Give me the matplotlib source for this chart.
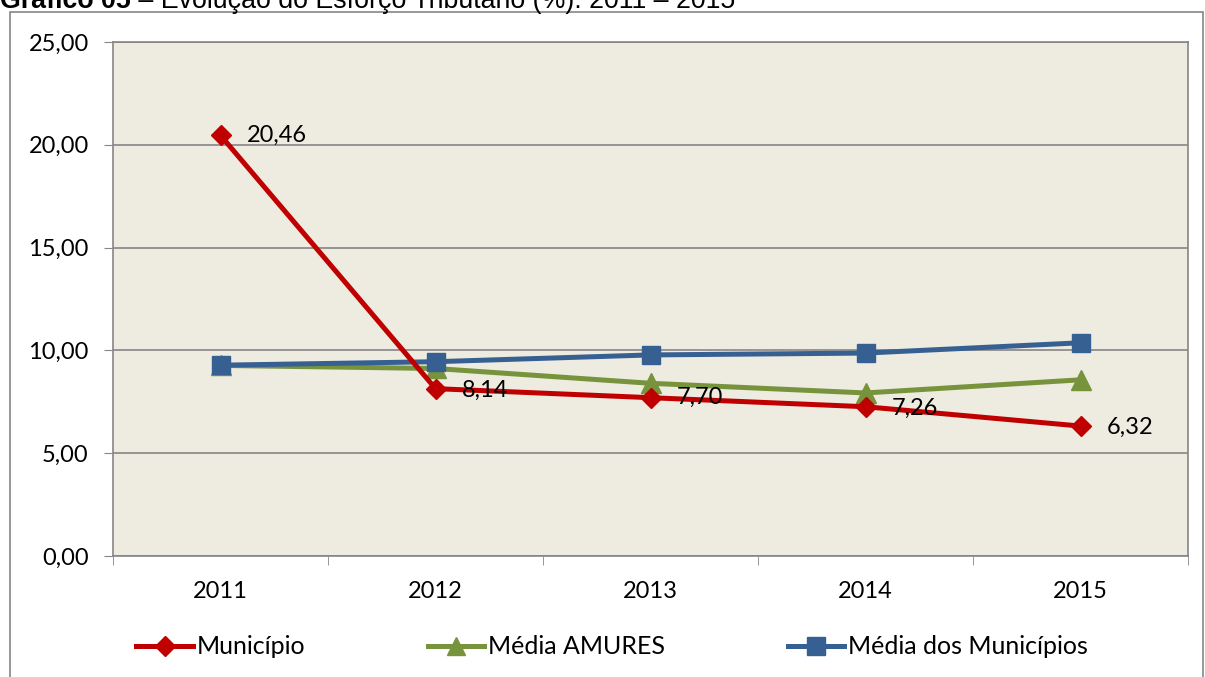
import matplotlib
matplotlib.use("Agg")
import matplotlib.pyplot as plt
from matplotlib.ticker import FuncFormatter, FixedLocator, MultipleLocator
from matplotlib.patches import Rectangle
from matplotlib.text import Annotation

years = ["2011", "2012", "2013", "2014", "2015"]
municipio = [20.46, 8.14, 7.70, 7.26, 6.32]
media_amures = [9.27, 9.12, 8.40, 7.93, 8.57]
media_municipios = [9.28, 9.45, 9.78, 9.87, 10.37]
municipio_labels = ["20,46", "8,14", "7,70", "7,26", "6,32"]

W, H = 1205, 677
fig = plt.figure(figsize=(W / 100, H / 100), dpi=100)
plt.rcParams['font.family'] = ["Lato", "DejaVu Sans"]
FS = 17
LFS = 18

# outer chart border
fig.patches.append(Rectangle((10 / W, -0.01), (1203 - 10) / W, 1 - 12 / H + 0.01,
                             transform=fig.transFigure, fill=False,
                             edgecolor="#868686", linewidth=1.2))

# title (partially cut at the top, as in the reference)
t1 = fig.text(0.0, 1 - 8 / H, "Gráfico 05", fontsize=19.3, fontweight="bold",
              family="Liberation Sans", va="baseline", ha="left")
fig.add_artist(Annotation(
    " – Evolução do Esforço Tributário (%): 2011 – 2015", xy=(1, 0), xycoords=t1,
    fontsize=19.3, family="Liberation Sans", va="bottom", ha="left"))

ax = fig.add_axes([113 / W, 1 - 556 / H, (1188 - 113) / W, (556 - 42) / H])
ax.set_facecolor("#EEEBE0")
x = list(range(len(years)))

ax.plot(x, municipio, color="#C00000", lw=3.6, marker="D", ms=10.5,
        label="Município", zorder=4)
ax.plot(x, media_amures, color="#77933C", lw=3.6, marker="^", ms=14,
        label="Média AMURES", zorder=3)
ax.plot(x, media_municipios, color="#376092", lw=3.6, marker="s", ms=13,
        label="Média dos Municípios", zorder=3)

offsets = [(19, 0), (19, -1), (19, 0), (19, -1), (19, -1)]
for xi, v, lab, off in zip(x, municipio, municipio_labels, offsets):
    ax.annotate(lab, (xi, v), xytext=off, textcoords="offset points",
                fontsize=FS, va="center", ha="left", zorder=6)

ax.set_xlim(-0.5, len(years) - 0.5)
ax.set_ylim(0, 25)
ax.yaxis.set_major_locator(MultipleLocator(5))
ax.yaxis.set_major_formatter(FuncFormatter(lambda v, p: f"{v:.2f}".replace(".", ",")))
ax.set_xticks(x)
ax.set_xticklabels(years)
ax.xaxis.set_minor_locator(FixedLocator([i - 0.5 for i in range(len(years) + 1)]))
ax.tick_params(axis="x", which="major", length=0, pad=18, labelsize=FS)
ax.tick_params(axis="x", which="minor", length=6.5, color="#868686", direction="out")
ax.tick_params(axis="y", length=6.5, color="#868686", direction="out", labelsize=FS, pad=11)
ax.grid(axis="y", color="#868686", lw=1.2)
ax.set_axisbelow(True)
for s in ax.spines.values():
    s.set_color("#868686")
    s.set_linewidth(1.2)

ax.legend(loc="center", bbox_to_anchor=((612 - 113) / (1188 - 113), (556 - 647) / (556 - 42)),
          bbox_transform=ax.transAxes, ncol=3, frameon=False, fontsize=LFS,
          handlelength=2.25, handletextpad=0.16, columnspacing=4.9, markerscale=0.95)

fig.savefig("out.png", dpi=100)
